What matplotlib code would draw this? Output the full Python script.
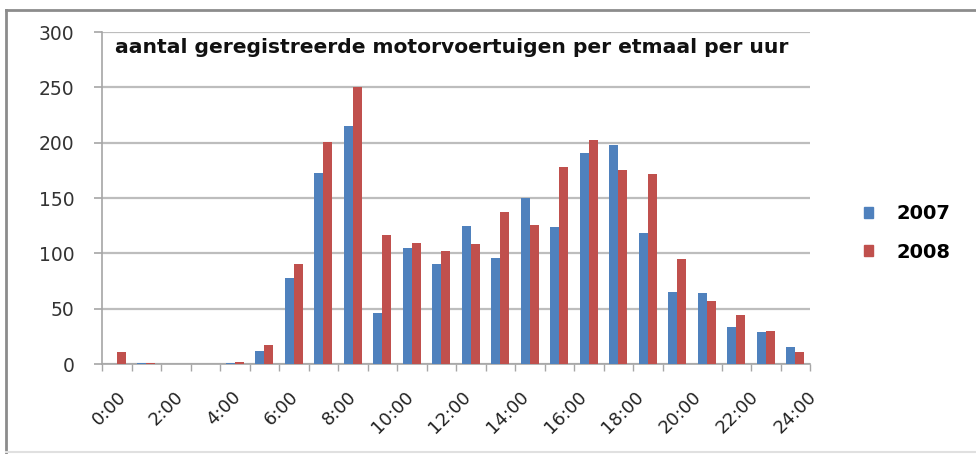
import numpy as np
import matplotlib
matplotlib.use("Agg")
import matplotlib.pyplot as plt
from matplotlib.patches import Patch
from matplotlib.lines import Line2D

# hourly counts (hour 0..23)
hours = list(range(24))
counts_2007 = [0, 1, 0, 0, 1, 12, 78, 173, 215, 46, 105, 90, 125, 96, 150, 124,
               191, 198, 118, 65, 64, 33, 29, 15]
counts_2008 = [11, 1, 0, 0, 2, 17, 90, 201, 250, 117, 109, 102, 108, 137, 126, 178,
               202, 175, 172, 95, 57, 44, 30, 11]
tick_labels = ["0:00", "2:00", "4:00", "6:00", "8:00", "10:00", "12:00",
               "14:00", "16:00", "18:00", "20:00", "22:00", "24:00"]
series_names = ["2007", "2008"]

blue = "#4F81BD"
red = "#C0504D"
grid_col = "#BDBDBD"

fig = plt.figure(figsize=(9.76, 4.54), dpi=100)
ax = fig.add_axes([102 / 976, 1 - 364 / 454, (810 - 102) / 976, (364 - 32) / 454])

x = np.arange(len(hours))
w = 0.305
ax.bar(x - w / 2, counts_2007, width=w, color=blue, zorder=3)
ax.bar(x + w / 2, counts_2008, width=w, color=red, zorder=3)

ax.set_xlim(-0.5, 23.5)
ax.set_ylim(0, 300)
ax.set_yticks(np.arange(0, 301, 50))
ax.yaxis.grid(True, color=grid_col, linewidth=1.6, zorder=0)
ax.tick_params(axis="y", length=6, width=1.2, color="#A6A6A6", pad=14,
               labelsize=13.5, labelcolor="#333333")

# tick marks on category boundaries, labels spread over the axis
ax.set_xticks(np.arange(-0.5, 24, 1), minor=True)
ax.set_xticks(np.linspace(0, 23.4, 13))
ax.set_xticklabels(tick_labels, rotation=45, ha="right", rotation_mode="anchor",
                   fontsize=13, color="#222222")
ax.tick_params(axis="x", which="major", length=0, pad=17)
ax.tick_params(axis="x", which="minor", length=5, width=1, color="#A6A6A6")

for s in ["top", "right"]:
    ax.spines[s].set_visible(False)
ax.spines["left"].set_color("#A6A6A6")
ax.spines["bottom"].set_color("#A6A6A6")
ax.spines["left"].set_linewidth(1.2)
ax.spines["bottom"].set_linewidth(1.2)

ax.text(0.019, 0.953, "aantal geregistreerde motorvoertuigen per etmaal per uur",
        transform=ax.transAxes, fontsize=14.6, fontweight="bold", va="center",
        ha="left", color="#111111")

handles = [Patch(color=blue), Patch(color=red)]
fig.legend(handles, series_names, loc="center left", bbox_to_anchor=(846 / 976, 1 - 233 / 454),
           frameon=False, prop={"weight": "bold", "size": 14},
           handlelength=0.5, handleheight=0.5, handletextpad=1.2, labelspacing=1.0)

# outer frame of the pasted chart
fig.add_artist(Line2D([6 / 976, 6 / 976], [0, 1 - 10 / 454], color="#8C8C8C", linewidth=2,
                      transform=fig.transFigure))
fig.add_artist(Line2D([6 / 976, 1], [1 - 10 / 454, 1 - 10 / 454], color="#8C8C8C", linewidth=2,
                      transform=fig.transFigure))
fig.add_artist(Line2D([6 / 976, 1], [2 / 454, 2 / 454], color="#E0E0E0", linewidth=1.5,
                      transform=fig.transFigure))

fig.savefig("out.png", dpi=100)
